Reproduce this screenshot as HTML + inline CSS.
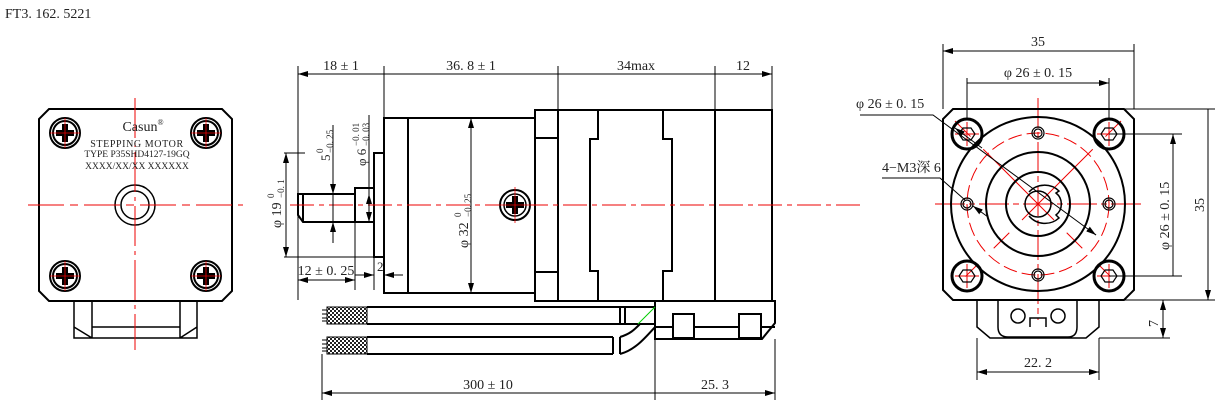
<!DOCTYPE html>
<html><head><meta charset="utf-8"><style>
html,body{margin:0;padding:0;background:#fff;}
svg{display:block;}
text{font-family:"Liberation Serif","Noto Serif CJK SC",serif;fill:#222;}
</style></head><body>
<svg width="1232" height="417" viewBox="0 0 1232 417" xmlns="http://www.w3.org/2000/svg">
<defs>
<marker id="a" viewBox="0 0 10 6" refX="10" refY="3" markerWidth="10" markerHeight="6" orient="auto-start-reverse" markerUnits="userSpaceOnUse"><path d="M0,0L10,3L0,6z" fill="#000"/></marker>
<pattern id="br" width="4" height="4" patternUnits="userSpaceOnUse"><rect width="4" height="4" fill="#fff"/><rect width="2" height="2" fill="#222"/><rect x="2" y="2" width="2" height="2" fill="#222"/></pattern>
</defs>
<text x="5" y="18" font-size="14">FT3. 162. 5221</text>

<!-- ===== LEFT FRONT VIEW ===== -->
<g stroke="#000" fill="none" stroke-width="2">
<path d="M49,109H222L232,119V291L222,301H49L39,291V119Z"/>
<path d="M74,301V338H197V301M92,301V338M180,301V338M74,327L92,338M197,327L180,338M92,327H180" stroke-width="1.5"/>
<circle cx="135" cy="205" r="20" stroke-width="1.5"/><circle cx="135" cy="205" r="14" stroke-width="1.5"/>
</g>
<g stroke="#e00" stroke-width="1">
<path d="M135,98V350" stroke-dasharray="40,5,4,5"/>
<path d="M28,205H243" stroke-dasharray="36,6,8,6"/>
</g>
<g stroke="#000" stroke-width="2" fill="none">
<circle cx="65" cy="133" r="15"/><circle cx="65" cy="133" r="12"/>
<circle cx="206" cy="133" r="15"/><circle cx="206" cy="133" r="12"/>
<circle cx="65" cy="276" r="15"/><circle cx="65" cy="276" r="12"/>
<circle cx="206" cy="276" r="15"/><circle cx="206" cy="276" r="12"/>
</g>
<g fill="#000">
<path d="M62,124h6v6h6v6h-6v6h-6v-6h-6v-6h6z"/>
<path d="M203,124h6v6h6v6h-6v6h-6v-6h-6v-6h6z"/>
<path d="M62,267h6v6h6v6h-6v6h-6v-6h-6v-6h6z"/>
<path d="M203,267h6v6h6v6h-6v6h-6v-6h-6v-6h6z"/>
</g>
<g stroke="#e00" stroke-width="0.8">
<path d="M50,133h30M65,118v30M191,133h30M206,118v30M50,276h30M65,261v30M191,276h30M206,261v30"/>
</g>
<text x="143" y="131" font-size="14" text-anchor="middle" fill="#333">Casun<tspan font-size="8" dy="-6">®</tspan></text>
<text x="137" y="147" font-size="10" text-anchor="middle" letter-spacing="0.6">STEPPING MOTOR</text>
<text x="137" y="157" font-size="9.5" text-anchor="middle">TYPE P35SHD4127-19GQ</text>
<text x="137" y="169" font-size="9.5" text-anchor="middle">XXXX/XX/XX  XXXXXX</text>

<!-- ===== SIDE VIEW ===== -->
<g stroke="#000" fill="none" stroke-width="2">
<rect x="384" y="118" width="151" height="175"/>
<path d="M408,118V293"/>
<rect x="535" y="110" width="23" height="191"/>
<path d="M535,138H558M535,272H558"/>
<rect x="558" y="110" width="214" height="191"/>
<path d="M598,110V139H590V271H598V301M663,110V139H672V271H663V301M715,110V301"/>
<path d="M374,153H384V257H374Z"/>
<path d="M355,194V188H374V222H355"/>
<path d="M298,194H355V222H303L298,215V199Z M303,194V222"/>
<path d="M655,301H775V323L762,339H655Z"/>
<path d="M655,327H673M694,327H739M761,327H775"/>
<rect x="673" y="314" width="21" height="24"/><rect x="739" y="314" width="22" height="24"/>
<path d="M367,307H655M367,324H655M367,337H613M367,354H613"/>
<path d="M620,337C630,334 634,330 640,324M620,354C635,350 645,338 655,327" />
<path d="M620,337V354M613,337V354M620,307V324M625,307V324"/>
</g>
<rect x="327" y="307" width="40" height="17" fill="url(#br)" stroke="#000"/>
<rect x="327" y="337" width="40" height="17" fill="url(#br)" stroke="#000"/>
<g stroke="#000" stroke-width="1"><path d="M322,310h5M322,314h5M322,318h5M322,321h5M322,340h5M322,344h5M322,348h5M322,351h5"/></g>
<path d="M638,324L655,307" stroke="#0c0" stroke-width="1"/>
<path d="M290,205H860" stroke="#e00" stroke-dasharray="24,5,5,5"/>
<circle cx="515" cy="205" r="15" stroke="#000" stroke-width="2" fill="#fff"/><circle cx="515" cy="205" r="11" stroke="#000" stroke-width="1.5" fill="none"/>
<path d="M512,196h6v6h6v6h-6v6h-6v-6h-6v-6h6z" fill="#000"/>
<path d="M515,187v36M497,205h36" stroke="#e00" stroke-width="0.8"/>
<!-- side dims -->
<g stroke="#000" stroke-width="1" fill="none">
<path d="M298,66V300M384,66V118M558,66V110M715,66V110M772,66V110"/>
<path d="M298,74H384M384,74H558M558,74H715M715,74H772" marker-start="url(#a)" marker-end="url(#a)"/>
<path d="M284,153H305M284,257H384"/>
<path d="M286,153V257" marker-start="url(#a)" marker-end="url(#a)"/>
<path d="M333,125V243"/><path d="M333,185V194" marker-end="url(#a)"/><path d="M333,232V222" marker-end="url(#a)"/>
<path d="M369,115V222"/><path d="M369,210V194" marker-end="url(#a)"/><path d="M369,206V222" marker-end="url(#a)"/>
<path d="M355,188V290M374,257V290"/>
<path d="M298,280H355" marker-start="url(#a)" marker-end="url(#a)"/>
<path d="M355,275H374" marker-end="url(#a)"/><path d="M403,275H384" marker-end="url(#a)"/>
<path d="M471,118V293" marker-start="url(#a)" marker-end="url(#a)"/>
<path d="M322,354V400M655,339V400M775,339V400"/>
<path d="M322,393H655M655,393H775" marker-start="url(#a)" marker-end="url(#a)"/>
</g>
<g font-size="14">
<text x="341" y="70" text-anchor="middle">18 ± 1</text>
<text x="471" y="70" text-anchor="middle">36. 8 ± 1</text>
<text x="636" y="70" text-anchor="middle">34max</text>
<text x="743" y="70" text-anchor="middle">12</text>
<text x="326" y="275" text-anchor="middle">12 ± 0. 25</text>
<text x="377" y="271" font-size="13">2</text>
<text x="488" y="389" text-anchor="middle">300 ± 10</text>
<text x="715" y="389" text-anchor="middle">25. 3</text>
<g transform="translate(281,228) rotate(-90)"><text x="0" y="0" font-size="14">φ 19</text><text x="30" y="3" font-size="9">−0. 1</text><text x="30" y="-7" font-size="9">0</text></g>
<g transform="translate(330,161) rotate(-90)"><text x="0" y="0" font-size="13">5</text><text x="8" y="3" font-size="9">−0. 25</text><text x="8" y="-7" font-size="9">0</text></g>
<g transform="translate(366,166) rotate(-90)"><text x="0" y="0" font-size="13">φ 6</text><text x="20" y="3" font-size="9">−0. 03</text><text x="20" y="-7" font-size="9">−0. 01</text></g>
<g transform="translate(468,248) rotate(-90)"><text x="0" y="0" font-size="14">φ 32</text><text x="31" y="3" font-size="9">−0. 25</text><text x="31" y="-7" font-size="9">0</text></g>
</g>

<!-- ===== RIGHT END VIEW ===== -->
<g stroke="#e00" stroke-width="1" fill="none">
<circle cx="1038" cy="204" r="71" stroke-dasharray="14,5"/>
<path d="M1038,98V320M935,204H1145" stroke-dasharray="30,4,6,4"/>
<path d="M955,121L1121,287M1121,121L955,287" stroke-dasharray="22,18,100,18,22"/>
<path d="M955,134h24M967,122v24M1097,134h24M1109,122v24M955,276h24M967,264v24M1097,276h24M1109,264v24"/>
</g>
<g stroke="#000" fill="none" stroke-width="2">
<path d="M953,109H1124L1134,119V290L1124,300H953L943,290V119Z"/>
<circle cx="1038" cy="204" r="87"/>
<circle cx="1038" cy="204" r="52"/>
<circle cx="1038" cy="204" r="32"/>
<path d="M1029,192A21,21 0 0 1 1059,191L1056,193A14,14 0 0 1 1056,215L1059,218A21,21 0 0 1 1029,216" stroke-width="1.5"/>
<circle cx="1038" cy="204" r="13" stroke-width="1.5"/>
<path d="M977,300V327L990,338H1086L1099,327V300M998,300V327Q998,337 1008,337H1068Q1077,337 1077,327V300" stroke-width="1.5"/>
<circle cx="1018" cy="316" r="7" stroke-width="1.5"/><circle cx="1058" cy="316" r="7" stroke-width="1.5"/>
<path d="M1030,327V318H1046V327" stroke-width="1.5"/>
<circle cx="967" cy="134" r="15" stroke-width="3"/><circle cx="1109" cy="134" r="15" stroke-width="3"/>
<circle cx="967" cy="276" r="15" stroke-width="3"/><circle cx="1109" cy="276" r="15" stroke-width="3"/>
</g>
<g stroke="#000" stroke-width="1.2" fill="none">
<path d="M963,128h8l4,6l-4,6h-8l-4,-6z"/><path d="M1105,128h8l4,6l-4,6h-8l-4,-6z"/>
<path d="M963,270h8l4,6l-4,6h-8l-4,-6z"/><path d="M1105,270h8l4,6l-4,6h-8l-4,-6z"/>
<circle cx="1038" cy="133" r="6"/><circle cx="1038" cy="133" r="4"/>
<circle cx="1038" cy="275" r="6"/><circle cx="1038" cy="275" r="4"/>
<circle cx="967" cy="204" r="6"/><circle cx="967" cy="204" r="4"/>
<circle cx="1109" cy="204" r="6"/><circle cx="1109" cy="204" r="4"/>
</g>
<g stroke="#000" stroke-width="1" fill="none">
<path d="M943,44V109M1134,44V109M967,78V118M1109,78V118"/>
<path d="M943,51H1134M967,83H1109" marker-start="url(#a)" marker-end="url(#a)"/>
<path d="M1124,109H1215M1124,300H1215M1109,134H1182M1109,276H1182"/>
<path d="M1173,134V276M1208,109V300" marker-start="url(#a)" marker-end="url(#a)"/>
<path d="M1163,300V338M1099,338H1170"/>
<path d="M1163,315V300" marker-end="url(#a)"/><path d="M1163,323V338" marker-end="url(#a)"/>
<path d="M977,338V380M1099,338V380"/>
<path d="M977,372H1099" marker-start="url(#a)" marker-end="url(#a)"/>
<path d="M860,115H933L1096,235" /><path d="M1092,232L1096,235" marker-end="url(#a)"/>
<path d="M982,148L955,128" marker-end="url(#a)"/>
<path d="M882,178H940L965,200"/><path d="M988,217L973,206" marker-end="url(#a)"/>
</g>
<g font-size="14">
<text x="1038" y="46" text-anchor="middle">35</text>
<text x="1038" y="77" text-anchor="middle">φ 26 ± 0. 15</text>
<text x="856" y="108">φ 26 ± 0. 15</text>
<text x="882" y="172">4−M3深 6</text>
<text transform="translate(1169,250) rotate(-90)">φ 26 ± 0. 15</text>
<text transform="translate(1204,212) rotate(-90)">35</text>
<text transform="translate(1158,327) rotate(-90)">7</text>
<text x="1038" y="367" text-anchor="middle">22. 2</text>
</g>
</svg>
</body></html>
